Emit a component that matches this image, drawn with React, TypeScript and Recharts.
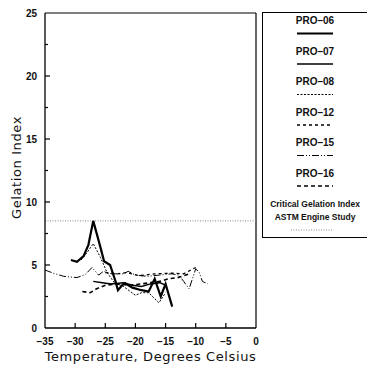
import { LineChart, Line, XAxis, YAxis, ReferenceLine } from 'recharts';

// temperature (deg C), gelation index
const pro06: [number, number][] = [
  [-30.7, 5.4], [-29.7, 5.25], [-28.6, 5.7], [-27.8, 6.6], [-27, 8.5], [-25.8, 6.4],
  [-25.2, 5.3], [-24.2, 5.0], [-23.3, 3.7], [-22.9, 3.0], [-22, 3.5], [-21.7, 3.55],
  [-20.5, 3.2], [-19, 3.0], [-17.8, 2.9], [-16.8, 3.9], [-15.8, 2.5], [-15, 3.5], [-13.9, 1.7],
];
const pro07: [number, number][] = [
  [-27, 3.7], [-25.5, 3.6], [-24, 3.5], [-22, 3.6], [-20.5, 3.4], [-19, 3.3],
  [-17.5, 3.5], [-16, 3.6], [-15, 3.4],
];
const pro08: [number, number][] = [
  [-29, 5.4], [-28, 6.0], [-27, 6.7], [-25.8, 5.6], [-24.7, 4.4], [-23.5, 3.6],
  [-22, 3.3], [-20, 2.6], [-19, 2.8], [-17.8, 2.8], [-16.1, 2.0], [-15, 2.8],
];
const pro12: [number, number][] = [
  [-25, 4.4], [-23, 4.3], [-21.4, 4.4], [-19.4, 4.15], [-16.7, 4.3], [-13.9, 4.35],
  [-12, 4.3], [-10, 4.8],
];
const pro15: [number, number][] = [
  [-35, 4.6], [-33.6, 4.35], [-31.9, 4.1], [-29.7, 4.0], [-28.3, 4.25], [-27.2, 4.8],
  [-26.1, 4.2], [-25.3, 4.5], [-24, 4.3], [-22, 4.3], [-21.2, 4.5], [-20, 4.2],
  [-18, 4.1], [-16, 4.2], [-14, 4.3], [-12.8, 4.2], [-12, 3.7], [-11.1, 3.1],
  [-10, 4.7], [-9.4, 4.4], [-8.9, 3.7], [-8, 3.5],
];
const pro16: [number, number][] = [
  [-28.8, 2.9], [-27.5, 2.8], [-26.5, 3.1], [-25, 3.4], [-23, 3.5], [-21, 3.4],
  [-19, 3.5], [-17.5, 3.6], [-16, 3.7], [-14.5, 3.9], [-13, 4.0], [-11, 4.3],
];
const criticalIndex = 8.5;

const xTicks = [-35, -30, -25, -20, -15, -10, -5, 0];
const yTicks = [0, 2.5, 5, 7.5, 10, 12.5, 15, 17.5, 20, 22.5, 25];

const series = [
  { name: 'PRO–06', data: pro06, width: 2.2, dash: undefined },
  { name: 'PRO–07', data: pro07, width: 1.5, dash: undefined },
  { name: 'PRO–08', data: pro08, width: 1, dash: '2 1.5' },
  { name: 'PRO–12', data: pro12, width: 1.3, dash: '3 3' },
  { name: 'PRO–15', data: pro15, width: 1, dash: '7 2 1 2 1 2' },
  { name: 'PRO–16', data: pro16, width: 1.6, dash: '4 3' },
];

const FONT = '"Liberation Sans", Arial, sans-serif';
const TITLE_FONT = '"DejaVu Sans", sans-serif';
const INK = '#000';

const fmt = (v: number) => String(v).replace('-', '−');

// inward tick marks, labels outside the frame
function XTick({ x, y, payload }: any) {
  const v = payload.value;
  return (
    <g>
      {v > -35 && v < 0 && <path d={`M${x},${y}V${y - 5}`} stroke={INK} strokeWidth={1.2} fill="none" />}
      <text x={x} y={y + 17} textAnchor="middle" fontSize={10} fontWeight="bold" fontFamily={FONT} fill="#111">
        {fmt(v)}
      </text>
    </g>
  );
}

function YTick({ x, y, payload }: any) {
  const v = payload.value;
  const major = v % 5 === 0;
  return (
    <g>
      {v > 0 && v < 25 && <path d={`M${x},${y}H${x + (major ? 5 : 3)}`} stroke={INK} strokeWidth={1.2} fill="none" />}
      {major && (
        <text x={x - 8} y={y + 3.5} textAnchor="end" fontSize={10} fontWeight="bold" fontFamily={FONT} fill="#111">
          {v}
        </text>
      )}
    </g>
  );
}

function Legend() {
  return (
    <div
      style={{
        position: 'absolute',
        left: 262,
        top: 12,
        width: 110,
        height: 226,
        border: '1px solid #000',
        boxSizing: 'border-box',
      }}
    >
      <svg width={110} height={226} style={{ position: 'absolute', left: -1, top: -1 }}>
        {series.map((s, i) => (
          <g key={s.name}>
            <text x={53} y={12 + i * 30.5} textAnchor="middle" fontSize={10} fontWeight="bold" fontFamily={FONT} fill="#111">
              {s.name}
            </text>
            <line
              x1={35}
              x2={71}
              y1={21.5 + i * 30.5}
              y2={21.5 + i * 30.5}
              stroke={INK}
              strokeWidth={s.width}
              strokeDasharray={s.dash}
            />
          </g>
        ))}
        <text x={53} y={195} textAnchor="middle" fontSize={8.5} fontWeight="bold" fontFamily={FONT} fill="#111">
          Critical Gelation Index
        </text>
        <text x={53} y={208} textAnchor="middle" fontSize={8.5} fontWeight="bold" fontFamily={FONT} fill="#111">
          ASTM Engine Study
        </text>
        <line x1={29} x2={71} y1={218} y2={218} stroke="#888" strokeWidth={1} strokeDasharray="1 1.5" />
      </svg>
    </div>
  );
}

export default function App() {
  return (
    <div style={{ position: 'absolute', left: 0, top: 0, width: 367, height: 367, overflow: 'hidden', background: '#fff' }}>
      <LineChart width={367} height={367} margin={{ top: 13, right: 111, bottom: 0, left: 15 }}>
        <XAxis
          dataKey="t"
          type="number"
          domain={[-35, 0]}
          ticks={xTicks}
          interval={0}
          height={39}
          tickSize={0}
          tickMargin={0}
          tickLine={false}
          tick={<XTick />}
          axisLine={{ stroke: INK, strokeWidth: 1.3 }}
          allowDataOverflow
          label={(p: any) => (
            <text
              x={p.viewBox.x + p.viewBox.width / 2}
              y={361}
              textAnchor="middle"
              fontSize={13}
              letterSpacing={0.6}
              fontFamily={TITLE_FONT}
              fill="#111"
            >
              Temperature, Degrees Celsius
            </text>
          )}
        />
        <YAxis
          type="number"
          domain={[0, 25]}
          ticks={yTicks}
          interval={0}
          width={30}
          tickSize={0}
          tickMargin={0}
          tickLine={false}
          tick={<YTick />}
          axisLine={{ stroke: INK, strokeWidth: 1.3 }}
          allowDataOverflow
          label={(p: any) => (
            <text
              transform={`translate(21, ${p.viewBox.y + p.viewBox.height / 2 - 3}) rotate(-90)`}
              textAnchor="middle"
              fontSize={13}
              letterSpacing={0.6}
              fontFamily={TITLE_FONT}
              fill="#111"
            >
              Gelation Index
            </text>
          )}
        />
        {/* frame: top and right edges of the plot */}
        <ReferenceLine y={25} stroke={INK} strokeWidth={1.2} />
        <ReferenceLine x={0} stroke={INK} strokeWidth={1.2} />
        <ReferenceLine y={criticalIndex} stroke="#888" strokeWidth={1} strokeDasharray="1 1.5" />
        {series.map((s) => (
          <Line
            key={s.name}
            data={s.data.map(([t, v]) => ({ t, v }))}
            dataKey="v"
            type="linear"
            stroke={INK}
            strokeWidth={s.width}
            strokeDasharray={s.dash}
            dot={false}
            isAnimationActive={false}
          />
        ))}
      </LineChart>
      <Legend />
    </div>
  );
}
